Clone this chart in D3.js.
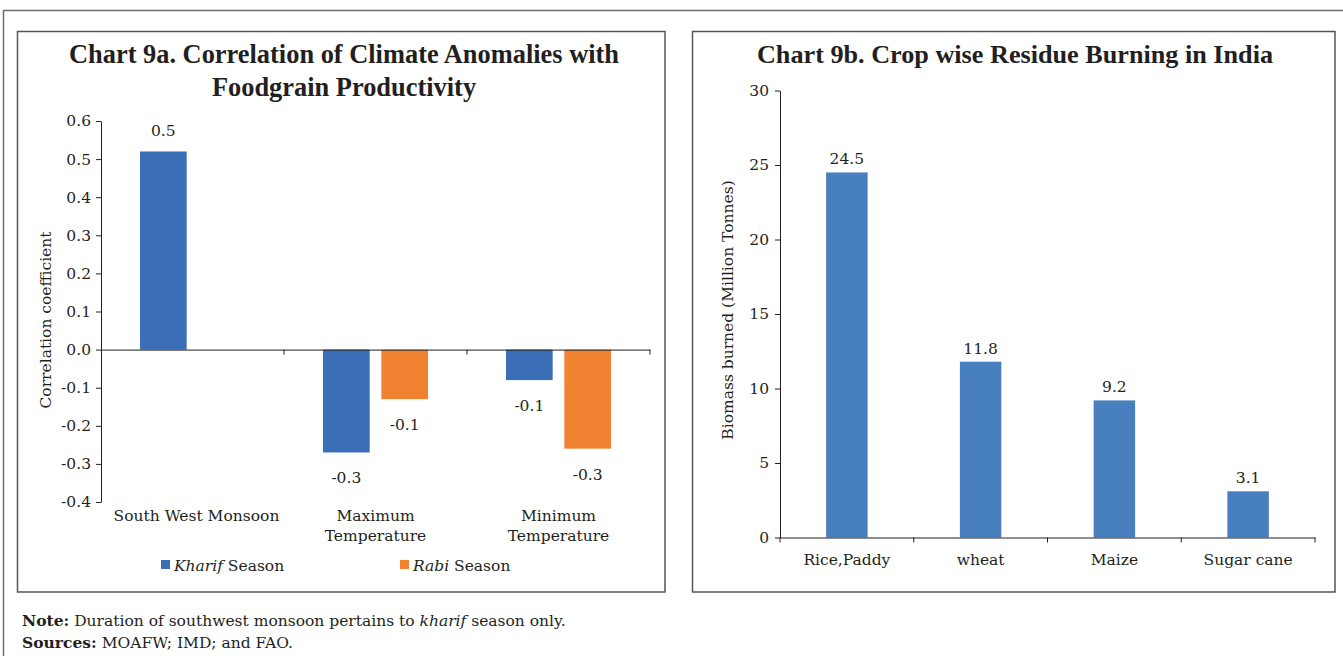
<!DOCTYPE html>
<html>
<head>
<meta charset="utf-8">
<script src="https://cdn.jsdelivr.net/npm/d3@7"></script>
<style>
  html, body { margin: 0; padding: 0; background: #fff; }
  svg { display: block; }
  text { font-family: "DejaVu Serif", "Liberation Serif", serif; fill: #231f20; }
  .title { font-family: "Liberation Serif", serif; font-weight: bold; }
</style>
</head>
<body>
<svg id="chart" width="1343" height="656"></svg>
<script>
// Chart 9a: correlation of climate anomalies with foodgrain productivity
const climateCategories = [["South West Monsoon"], ["Maximum", "Temperature"], ["Minimum", "Temperature"]];
const kharifValues = [0.52, -0.27, -0.08];
const rabiValues = [null, -0.13, -0.26];
const corrTicks = [0.6, 0.5, 0.4, 0.3, 0.2, 0.1, 0.0, -0.1, -0.2, -0.3, -0.4];

// Chart 9b: crop wise residue burning
const crops = ["Rice,Paddy", "wheat", "Maize", "Sugar cane"];
const biomassBurned = [24.5, 11.8, 9.2, 3.1];
const biomassTicks = [0, 5, 10, 15, 20, 25, 30];

const svg = d3.select("#chart");
const ink = "#231f20";
const kharifColor = "#3a6eb6";
const rabiColor = "#f08232";
const cropColor = "#487fbf";
const fs = "15.5px";

// plain hyphen for negatives instead of the unicode minus
const fmt1 = v => d3.format(".1f")(v).replace("\u2212", "-");

// outer frame and the two panel boxes
svg.append("path").attr("d", "M3.5,656 V10.5 H1343").attr("fill", "none").attr("stroke", "#6d6d6d").attr("stroke-width", 1.5);
svg.append("rect").attr("x", 17.5).attr("y", 31.5).attr("width", 647.5).attr("height", 560.5)
  .attr("fill", "none").attr("stroke", "#555").attr("stroke-width", 1.5);
svg.append("rect").attr("x", 692.5).attr("y", 31.5).attr("width", 642.5).attr("height", 560.5)
  .attr("fill", "none").attr("stroke", "#555").attr("stroke-width", 1.5);

function styleAxis(g) {
  g.selectAll("path, line").attr("stroke", ink).attr("stroke-width", 1);
  g.selectAll("text").attr("fill", ink).style("font-size", fs).style("font-family", "DejaVu Serif, serif");
}

// ---------- Chart 9a ----------
const titleA = svg.append("text").attr("class", "title").attr("x", 344).attr("text-anchor", "middle")
  .style("font-size", "26.4px");
titleA.append("tspan").attr("x", 344).attr("y", 63).text("Chart 9a. Correlation of Climate Anomalies with");
titleA.append("tspan").attr("x", 344).attr("y", 96).text("Foodgrain Productivity");

const yA = d3.scaleLinear().domain([-0.4, 0.6]).range([502, 121]);
const xA = d3.scaleBand().domain(d3.range(climateCategories.length)).range([101, 650]).paddingInner(0).paddingOuter(0);
const inner = d3.scaleBand().domain(["kharif", "rabi"]).range([39, 144]).paddingInner(0.2);

const gA = svg.append("g");
// y axis
gA.append("g").attr("transform", "translate(101,0)")
  .call(d3.axisLeft(yA).tickValues(corrTicks).tickFormat(fmt1).tickSize(5).tickSizeOuter(0))
  .call(styleAxis)
  .call(g => g.selectAll("text").attr("dx", "-2"));

// bars
const seriesA = [
  { key: "kharif", values: kharifValues, color: kharifColor },
  { key: "rabi", values: rabiValues, color: rabiColor }
];
seriesA.forEach(s => {
  s.values.forEach((v, i) => {
    if (v === null) return;
    const x0 = xA(i) + inner(s.key);
    const w = inner.bandwidth();
    gA.append("rect")
      .attr("x", x0).attr("width", w)
      .attr("y", Math.min(yA(v), yA(0))).attr("height", Math.abs(yA(v) - yA(0)))
      .attr("fill", s.color);
    gA.append("text")
      .attr("x", x0 + w / 2)
      .attr("y", v >= 0 ? yA(v) - 15 : yA(v) + 31)
      .attr("text-anchor", "middle").style("font-size", fs)
      .text(fmt1(v));
  });
});

// x axis at zero
gA.append("g").attr("transform", `translate(0,${yA(0)})`)
  .call(d3.axisBottom(xA).tickValues([]).tickSizeOuter(0))
  .call(styleAxis);
d3.range(1, climateCategories.length + 1).forEach(i => {
  const x = 101 + i * xA.bandwidth();
  gA.append("line").attr("x1", x).attr("x2", x).attr("y1", yA(0)).attr("y2", yA(0) + 5)
    .attr("stroke", ink);
});

// category labels
climateCategories.forEach((lines, i) => {
  const t = gA.append("text").attr("text-anchor", "middle").style("font-size", fs);
  lines.forEach((ln, j) => {
    t.append("tspan").attr("x", xA(i) + xA.bandwidth() / 2 + (i === 0 ? 4 : 0)).attr("y", 521 + j * 20).text(ln);
  });
});

// y title
gA.append("text").attr("transform", "translate(51,320) rotate(-90)")
  .attr("text-anchor", "middle").style("font-size", fs).text("Correlation coefficient");

// legend
const legend = [
  { name: "Kharif", x: 161, color: kharifColor },
  { name: "Rabi", x: 400, color: rabiColor }
];
legend.forEach(l => {
  gA.append("rect").attr("x", l.x).attr("y", 560).attr("width", 9).attr("height", 9).attr("fill", l.color);
  const t = gA.append("text").attr("x", l.x + 13).attr("y", 571).style("font-size", fs);
  t.append("tspan").style("font-style", "italic").text(l.name);
  t.append("tspan").text(" Season");
});

// ---------- Chart 9b ----------
svg.append("text").attr("class", "title").attr("x", 1015).attr("y", 63).attr("text-anchor", "middle")
  .style("font-size", "26.2px")
  .text("Chart 9b. Crop wise Residue Burning in India");

const yB = d3.scaleLinear().domain([0, 30]).range([537.5, 90.5]);
const xB = d3.scaleBand().domain(crops).range([780, 1315]).paddingInner(0.69).paddingOuter(0.345);
const gB = svg.append("g");

gB.append("g").attr("transform", "translate(780,0)")
  .call(d3.axisLeft(yB).tickValues(biomassTicks).tickFormat(d3.format("d")).tickSize(5).tickSizeOuter(0))
  .call(styleAxis)
  .call(g => g.selectAll("text").attr("dx", "-3"));

crops.forEach((c, i) => {
  const v = biomassBurned[i];
  gB.append("rect").attr("x", xB(c)).attr("width", xB.bandwidth())
    .attr("y", yB(v)).attr("height", yB(0) - yB(v)).attr("fill", cropColor);
  gB.append("text").attr("x", xB(c) + xB.bandwidth() / 2).attr("y", yB(v) - 8)
    .attr("text-anchor", "middle").style("font-size", fs).text(fmt1(v));
});

gB.append("g").attr("transform", `translate(0,${yB(0)})`)
  .call(d3.axisBottom(xB).tickValues([]).tickSizeOuter(0))
  .call(styleAxis);
const stepB = (1315 - 780) / crops.length;
d3.range(0, crops.length + 1).forEach(i => {
  const x = 780 + i * stepB;
  gB.append("line").attr("x1", x).attr("x2", x).attr("y1", yB(0)).attr("y2", yB(0) + 5).attr("stroke", ink);
});
crops.forEach(c => {
  gB.append("text").attr("x", xB(c) + xB.bandwidth() / 2).attr("y", 565)
    .attr("text-anchor", "middle").style("font-size", fs).text(c);
});

gB.append("text").attr("transform", "translate(733,310) rotate(-90)")
  .attr("text-anchor", "middle").style("font-size", fs).text("Biomass burned (Million Tonnes)");

// ---------- notes ----------
const note = svg.append("text").attr("x", 22).attr("y", 626).style("font-size", fs);
note.append("tspan").style("font-weight", "bold").text("Note:");
note.append("tspan").text(" Duration of southwest monsoon pertains to ");
note.append("tspan").style("font-style", "italic").text("kharif");
note.append("tspan").text(" season only.");
const src = svg.append("text").attr("x", 22).attr("y", 648).style("font-size", fs);
src.append("tspan").style("font-weight", "bold").text("Sources:");
src.append("tspan").text(" MOAFW; IMD; and FAO.");
</script>
</body>
</html>
